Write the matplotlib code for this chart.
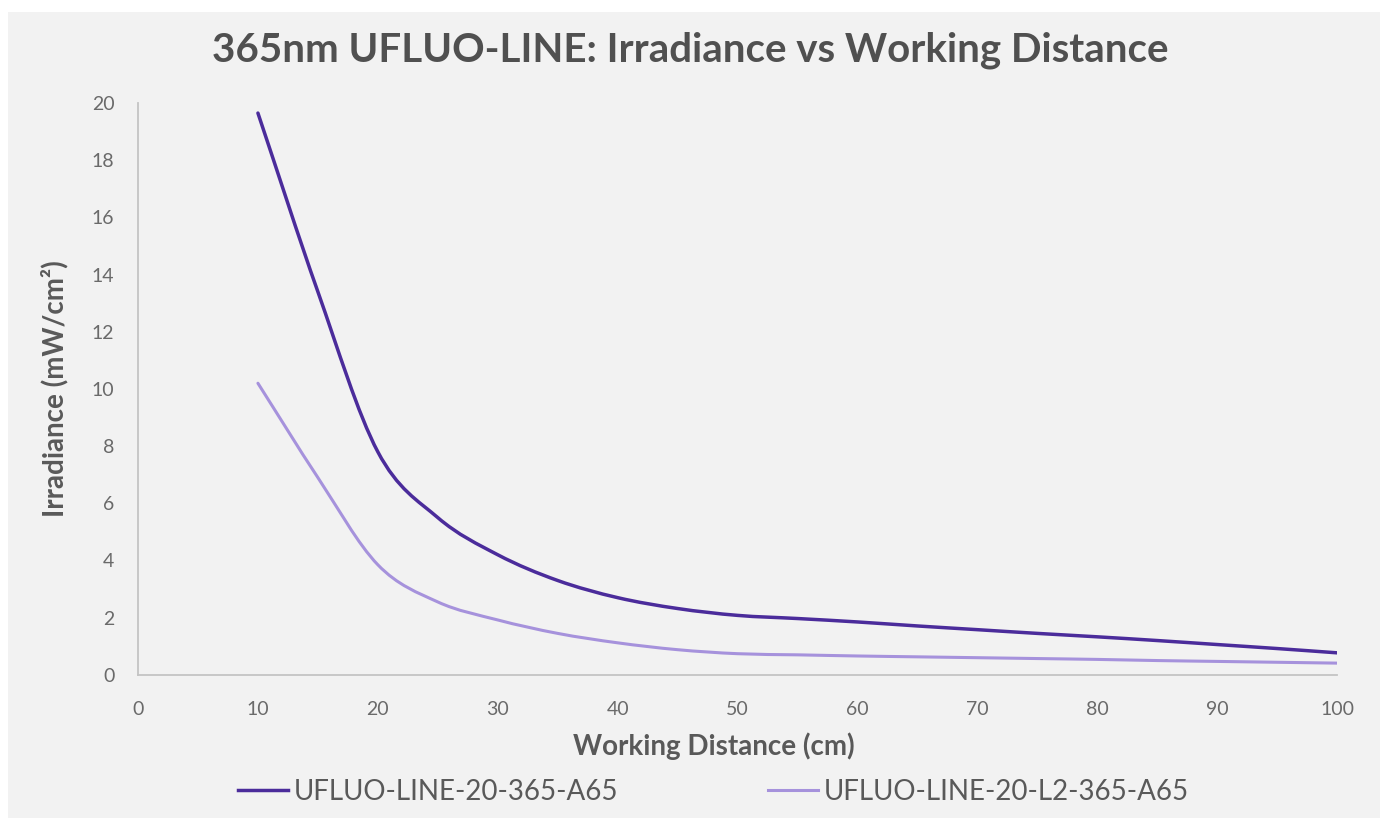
import matplotlib.pyplot as plt
from matplotlib.patches import Rectangle, PathPatch
from matplotlib.path import Path
from matplotlib.lines import Line2D

plt.rcParams['font.family'] = ['Lato', 'DejaVu Sans']

distance = [10, 15, 20, 25, 30, 35, 40, 45, 50, 55, 60, 65, 70, 75, 80, 85, 90, 95, 100]
line_a65 = [19.65, 13.4, 7.8, 5.5, 4.2, 3.3, 2.7, 2.32, 2.08, 1.97, 1.85, 1.71, 1.58, 1.45, 1.33, 1.2, 1.06, 0.92, 0.77]
line_l2_a65 = [10.2, 6.9, 3.85, 2.55, 1.92, 1.45, 1.12, 0.88, 0.74, 0.7, 0.66, 0.63, 0.6, 0.57, 0.54, 0.5, 0.47, 0.44, 0.41]

names = ['UFLUO-LINE-20-365-A65', 'UFLUO-LINE-20-L2-365-A65']
colors = ['#4b2c9b', '#a692dc']
xticks = [0, 10, 20, 30, 40, 50, 60, 70, 80, 90, 100]
yticks = [0, 2, 4, 6, 8, 10, 12, 14, 16, 18, 20]


def smooth_path(xs, ys):
    # smoothed line like the spreadsheet one: catmull-rom segments as cubic beziers
    pts = list(zip(xs, ys))
    n = len(pts)
    verts = [pts[0]]
    codes = [Path.MOVETO]
    for i in range(n - 1):
        p1 = pts[i]
        p2 = pts[i + 1]
        p0 = pts[i - 1] if i > 0 else (2 * p1[0] - p2[0], 2 * p1[1] - p2[1])
        p3 = pts[i + 2] if i + 2 < n else (2 * p2[0] - p1[0], 2 * p2[1] - p1[1])
        c1 = (p1[0] + (p2[0] - p0[0]) / 6, p1[1] + (p2[1] - p0[1]) / 6)
        c2 = (p2[0] - (p3[0] - p1[0]) / 6, p2[1] - (p3[1] - p1[1]) / 6)
        verts += [c1, c2, p2]
        codes += [Path.CURVE4] * 3
    return Path(verts, codes)


fig = plt.figure(figsize=(13.8, 8.18), dpi=100, facecolor='white')
fig.patches.append(Rectangle((0.006, 0), 0.994, 0.985, transform=fig.transFigure,
                             facecolor='#f2f2f2', edgecolor='none', zorder=-1))

ax = fig.add_axes([0.1, 0.175, 0.869, 0.699])
ax.set_facecolor('none')

widths = [2.5, 2.2]
for ys, c, w in zip([line_a65, line_l2_a65], colors, widths):
    ax.add_patch(PathPatch(smooth_path(distance, ys), facecolor='none', edgecolor=c,
                           lw=w, capstyle='round', joinstyle='round'))

ax.set_xlim(0, 100)
ax.set_ylim(0, 20)
ax.set_xticks(xticks)
ax.set_yticks(yticks)
ax.tick_params(length=0, labelsize=14, labelcolor='#6a6a6a')
ax.tick_params(axis='x', pad=19)
ax.tick_params(axis='y', pad=17)

for s in ['top', 'right']:
    ax.spines[s].set_visible(False)
for s in ['left', 'bottom']:
    ax.spines[s].set_color('#c4c4c4')
    ax.spines[s].set_linewidth(1.3)

ax.set_xlabel('Working Distance (cm)', fontsize=20, fontweight='bold', color='#595959')
ax.set_ylabel('Irradiance (mW/cm²)', fontsize=20, fontweight='bold', color='#595959')
ax.xaxis.set_label_coords(0.48, -0.1)
ax.yaxis.set_label_coords(-0.058, 0.5)

fig.text(0.5, 0.938, '365nm UFLUO-LINE: Irradiance vs Working Distance', ha='center', va='center',
         fontsize=29, fontweight='bold', color='#505050')

handles = [Line2D([], [], color=c, lw=w) for c, w in zip(colors, widths)]
fig.legend(handles, names, loc='center', bbox_to_anchor=(0.517, 0.032), ncol=2, frameon=False,
           fontsize=20, handlelength=1.8, handletextpad=0.2, columnspacing=5.4,
           labelcolor='#595959')

plt.savefig('out.png', dpi=100, facecolor=fig.get_facecolor())
